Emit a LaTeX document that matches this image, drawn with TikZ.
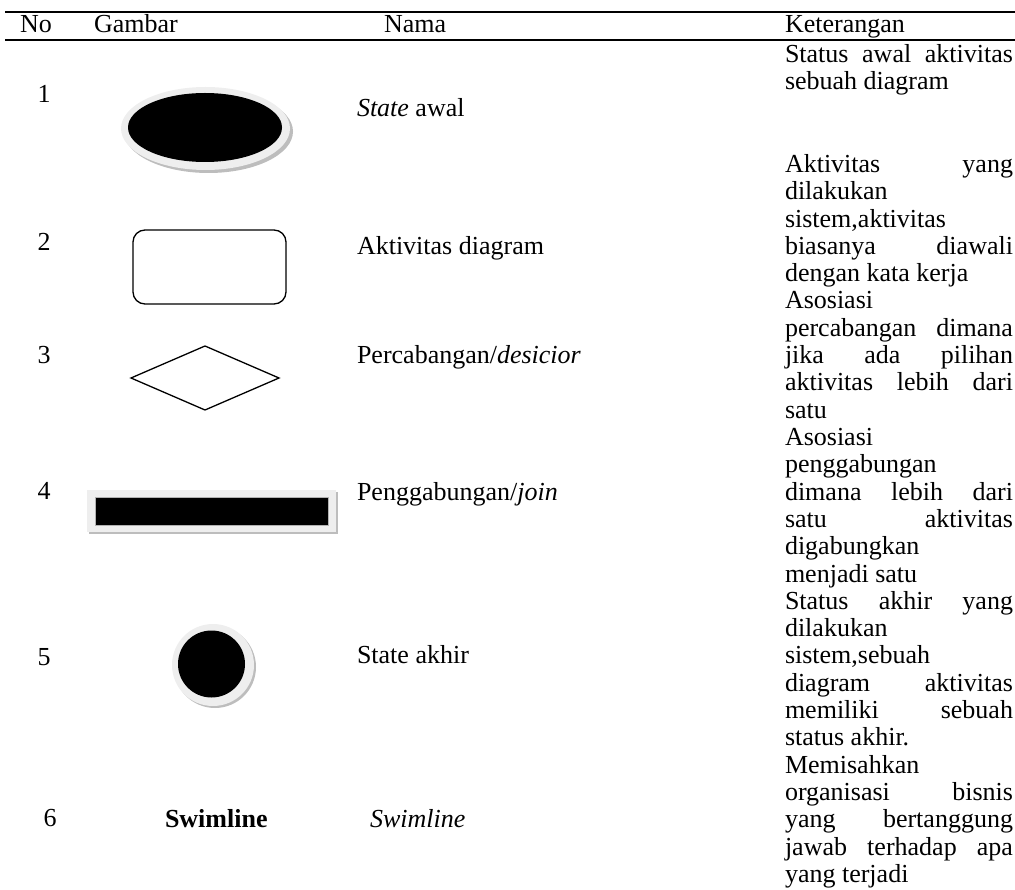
\documentclass[tikz,border=0pt]{standalone}
\usepackage{fontspec}
\setmainfont{Liberation Serif}
\usetikzlibrary{shapes.geometric}
\definecolor{ringgray}{HTML}{EEEEEE}
\definecolor{shadowgray}{HTML}{BDBDBD}
\newcommand\jl[1]{\makebox[228pt][s]{#1}}
\begin{document}
\begin{tikzpicture}[x=1pt,y=-1pt,
  every node/.style={inner sep=0pt,outer sep=0pt,font=\fontsize{26}{27.3}\selectfont},
  txt/.style={anchor=base west},
  num/.style={anchor=base},
  rulestyle/.style={line width=1.8pt},
  outlinebox/.style={draw,line width=1.3pt,fill=white}]
\useasboundingbox (0,0) rectangle (1015,890);
% rules
\coordinate (r1a) at (5,12); \coordinate (r1b) at (1015,12);
\coordinate (r2a) at (5,40); \coordinate (r2b) at (1015,40);
\draw[rulestyle] (r1a) -- (r1b);
\draw[rulestyle] (r2a) -- (r2b);
% header
\node[txt] (hNo) at (20,33) {No};
\node[txt] (hGambar) at (94,33) {Gambar};
\node[txt] (hNama) at (384,33) {Nama};
\node[txt] (hKet) at (785,33) {Keterangan};
% numbers
\node[num] (n1) at (44,103) {1};
\node[num] (n2) at (44,251) {2};
\node[num] (n3) at (44,363.6) {3};
\node[num] (n4) at (44,500) {4};
\node[num] (n5) at (44,665) {5};
\node[num] (n6) at (50,826) {6};
% shape 1: initial state
\fill[shadowgray] (208.5,131.5) ellipse [x radius=84.5pt, y radius=41.5pt];
\fill[ringgray] (205.5,128.5) ellipse [x radius=84.5pt, y radius=41.5pt];
\node[ellipse,fill=black,minimum width=154pt,minimum height=69pt] (startstate) at (205,127.5) {};
% shape 2: activity
\node[outlinebox,rounded corners=12pt,minimum width=153pt,minimum height=74pt] (activity) at (209.5,267) {};
% shape 3: decision
\node[outlinebox,diamond,minimum width=148pt,minimum height=64pt] (decision) at (205,378) {};
% shape 4: join bar
\fill[shadowgray] (89,492) rectangle (338,534);
\fill[ringgray] (87,490) rectangle (336,532);
\node[fill=black,draw=gray!60,line width=0.6pt,minimum width=233pt,minimum height=28pt] (join) at (211.5,511) {};
% shape 5: final state
\fill[shadowgray] (215,667) circle (41pt);
\fill[ringgray] (213,665) circle (41pt);
\node[circle,fill=black,minimum size=67pt] (endstate) at (211.5,664) {};
% shape 6
\node[txt] (swimbold) at (165,827.7) {\textbf{Swimline}};
% Nama column
\node[txt] (m1) at (357,117) {\textit{State} awal};
\node[txt] (m2) at (357,254.4) {Aktivitas diagram};
\node[txt] (m3) at (357,363.6) {Percabangan/\textit{desicior}};
\node[txt] (m4) at (357,500.1) {Penggabungan/\textit{join}};
\node[txt] (m5) at (357,663.9) {State akhir};
\node[txt] (m6) at (370,827.7) {\textit{Swimline}};
% Keterangan column
\node[txt] (ka) at (785,63) {\jl{Status awal aktivitas}};
\node[txt] (kb) at (785,90) {sebuah diagram};
\node[txt] (k1) at (785,172.5) {\jl{Aktivitas yang}};
\node[txt] (k2) at (785,199.8) {dilakukan};
\node[txt] (k3) at (785,227.1) {sistem,aktivitas};
\node[txt] (k4) at (785,254.4) {\jl{biasanya diawali}};
\node[txt] (k5) at (785,281.7) {dengan kata kerja};
\node[txt] (k6) at (785,309.0) {Asosiasi};
\node[txt] (k7) at (785,336.3) {\jl{percabangan dimana}};
\node[txt] (k8) at (785,363.6) {\jl{jika ada pilihan}};
\node[txt] (k9) at (785,390.9) {\jl{aktivitas lebih dari}};
\node[txt] (k10) at (785,418.2) {satu};
\node[txt] (k11) at (785,445.5) {Asosiasi};
\node[txt] (k12) at (785,472.8) {penggabungan};
\node[txt] (k13) at (785,500.1) {\jl{dimana lebih dari}};
\node[txt] (k14) at (785,527.4) {\jl{satu aktivitas}};
\node[txt] (k15) at (785,554.7) {digabungkan};
\node[txt] (k16) at (785,582.0) {menjadi satu};
\node[txt] (k17) at (785,609.3) {\jl{Status akhir yang}};
\node[txt] (k18) at (785,636.6) {dilakukan};
\node[txt] (k19) at (785,663.9) {sistem,sebuah};
\node[txt] (k20) at (785,691.2) {\jl{diagram aktivitas}};
\node[txt] (k21) at (785,718.5) {\jl{memiliki sebuah}};
\node[txt] (k22) at (785,745.8) {status akhir.};
\node[txt] (k23) at (785,773.1) {Memisahkan};
\node[txt] (k24) at (785,800.4) {\jl{organisasi bisnis}};
\node[txt] (k25) at (785,827.7) {\jl{yang bertanggung}};
\node[txt] (k26) at (785,855.0) {\jl{jawab terhadap apa}};
\node[txt] (k27) at (785,882.3) {yang terjadi};
\end{tikzpicture}
\end{document}
